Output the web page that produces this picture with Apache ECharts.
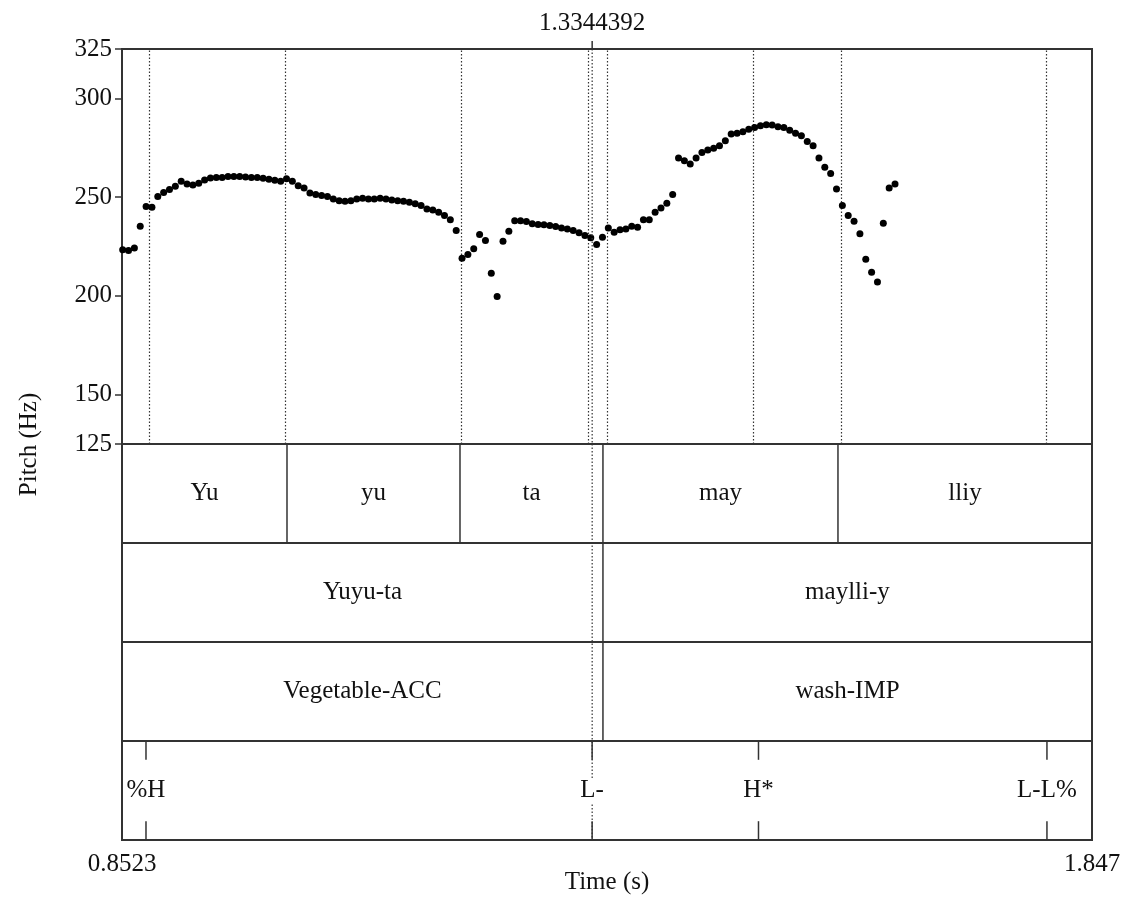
<!DOCTYPE html>
<html>
<head>
<meta charset="utf-8">
<title>Pitch contour with TextGrid</title>
<script src="https://cdn.jsdelivr.net/npm/echarts@6/dist/echarts.min.js"></script>
<style>
  html, body { margin: 0; padding: 0; background: #fff; }
  #chart { width: 1126px; height: 908px; }
</style>
</head>
<body>
<div id="chart"></div>
<script>
// Time range of the visible window (s)
const timeMin = 0.8523;
const timeMax = 1.847;
const timeTicks = [0.8523, 1.847];

// Pitch axis (Hz)
const pitchMin = 125;
const pitchMax = 325;
const pitchTicks = [125, 150, 200, 250, 300, 325];

// Cursor position (s)
const cursorTime = 1.3344392;

// Pitch track: frame times (s) and F0 values (Hz)
const pitchTimes = [
  0.853, 0.859, 0.865, 0.871, 0.877, 0.883, 0.889, 0.895, 0.901, 0.907,
  0.913, 0.919, 0.925, 0.931, 0.937, 0.943, 0.949, 0.955, 0.961, 0.967,
  0.973, 0.979, 0.985, 0.991, 0.997, 1.003, 1.009, 1.015, 1.021, 1.027,
  1.033, 1.039, 1.045, 1.051, 1.057, 1.063, 1.069, 1.075, 1.081, 1.087,
  1.093, 1.099, 1.105, 1.111, 1.117, 1.123, 1.129, 1.135, 1.141, 1.147,
  1.153, 1.159, 1.165, 1.171, 1.177, 1.183, 1.189, 1.195, 1.201, 1.207,
  1.213, 1.219, 1.225, 1.231, 1.237, 1.243, 1.249, 1.255, 1.261, 1.267,
  1.273, 1.279, 1.285, 1.291, 1.297, 1.303, 1.309, 1.315, 1.321, 1.327,
  1.333, 1.339, 1.345, 1.351, 1.357, 1.363, 1.369, 1.375, 1.381, 1.387,
  1.393, 1.399, 1.405, 1.411, 1.417, 1.423, 1.429, 1.435, 1.441, 1.447,
  1.453, 1.459, 1.465, 1.471, 1.477, 1.483, 1.489, 1.495, 1.501, 1.507,
  1.513, 1.519, 1.525, 1.531, 1.537, 1.543, 1.549, 1.555, 1.561, 1.567,
  1.573, 1.579, 1.585, 1.591, 1.597, 1.603, 1.609, 1.615, 1.621, 1.627,
  1.633, 1.639, 1.645
];
const pitchHz = [
  223.3, 223.0, 224.2, 235.3, 245.2, 244.9, 250.3, 252.4, 253.8, 255.5,
  258.0, 256.7, 256.2, 257.0, 258.7, 259.7, 260.0, 260.0, 260.5, 260.5,
  260.5, 260.2, 260.0, 260.0, 259.5, 259.0, 258.5, 258.0, 259.3, 258.0,
  255.8, 254.6, 252.1, 251.3, 250.8, 250.3, 249.1, 248.2, 247.9, 248.2,
  249.1, 249.4, 249.1, 249.1, 249.4, 249.1, 248.6, 248.2, 247.9, 247.4,
  246.6, 245.7, 244.0, 243.5, 242.3, 240.7, 238.5, 233.1, 219.1, 221.0,
  223.8, 231.1, 228.0, 211.5, 199.7, 227.7, 232.7, 238.1, 238.1, 237.6,
  236.5, 236.1, 236.0, 235.6, 235.1, 234.4, 233.9, 233.1, 231.9, 230.6,
  229.4, 226.0, 229.7, 234.4, 232.2, 233.5, 233.9, 235.2, 234.7, 238.5,
  238.5, 242.3, 244.5, 246.9, 251.3, 269.8, 268.4, 266.8, 269.8, 272.6,
  273.8, 274.8, 276.0, 278.5, 281.9, 282.4, 283.1, 284.4, 285.3, 286.1,
  286.6, 286.5, 285.6, 285.3, 283.9, 282.4, 281.1, 278.2, 276.0, 269.8,
  265.1, 262.0, 254.1, 245.7, 240.7, 237.8, 231.4, 218.6, 211.9, 207.0,
  236.8, 254.6, 256.6
];

// Tier 1: syllables
const syllables = ['Yu', 'yu', 'ta', 'may', 'lliy'];
const syllableBounds = [0.8523, 1.0215, 1.1989, 1.3455, 1.5865, 1.847];
// Tier 2: words
const words = ['Yuyu-ta', 'maylli-y'];
const wordBounds = [0.8523, 1.3455, 1.847];
// Tier 3: glosses
const glosses = ['Vegetable-ACC', 'wash-IMP'];
const glossBounds = [0.8523, 1.3455, 1.847];
// Tier 4: tones (point tier)
const tones = ['%H', 'L-', 'H*', 'L-L%'];
const toneTimes = [0.8769, 1.3344, 1.5050, 1.8008];

const FONT = "'Liberation Serif', 'Times New Roman', serif";
const FS = 25;
const INK = '#111';
const FRAME = '#333';
const DOT_LINE = '#333';

// Build interval items for the three interval tiers
const intervalItems = [];
function addTier(labels, bounds, row) {
  labels.forEach((lab, i) => {
    intervalItems.push({ start: bounds[i], end: bounds[i + 1], row: row, label: lab });
  });
}
addTier(syllables, syllableBounds, 0);
addTier(words, wordBounds, 1);
addTier(glosses, glossBounds, 2);

const toneRow = 3;
const pointItems = tones.map((lab, i) => ({ time: toneTimes[i], label: lab }));

// Dotted guides in the pitch panel: interior syllable boundaries and tone points
const guideTimes = syllableBounds.slice(1, -1).concat(toneTimes);

const pitchData = pitchTimes.map((t, i) => [t, pitchHz[i]]);

const chart = echarts.init(document.getElementById('chart'), null, { renderer: 'canvas' });

const textStyleBase = { fontFamily: FONT, fontSize: FS, color: INK };

chart.setOption({
  animation: false,
  backgroundColor: '#ffffff',
  textStyle: { fontFamily: FONT },
  grid: [
    { left: 122, top: 49, width: 970, height: 395, show: true, borderColor: FRAME, borderWidth: 2, backgroundColor: 'transparent' },
    { left: 122, top: 444, width: 970, height: 396, show: true, borderColor: FRAME, borderWidth: 2, backgroundColor: 'transparent' },
    { left: 122, top: 49, width: 970, height: 791, show: false }
  ],
  xAxis: [
    { type: 'value', gridIndex: 0, min: timeMin, max: timeMax, show: false },
    {
      type: 'value', gridIndex: 1, min: timeMin, max: timeMax, position: 'bottom',
      axisLine: { show: true, lineStyle: { color: FRAME, width: 2 } },
      axisTick: { show: true, inside: false, length: 7, customValues: timeTicks, lineStyle: { color: FRAME, width: 1.5 } },
      axisLabel: {
        show: true, customValues: timeTicks, margin: 12,
        formatter: (v) => String(v),
        fontFamily: FONT, fontSize: FS, color: INK
      },
      splitLine: { show: false },
      name: 'Time (s)', nameLocation: 'middle', nameGap: 30, nameMoveOverlap: false,
      nameTextStyle: textStyleBase
    },
    { type: 'value', gridIndex: 2, min: timeMin, max: timeMax, show: false }
  ],
  yAxis: [
    {
      type: 'value', gridIndex: 0, min: pitchMin, max: pitchMax,
      axisLine: { show: true, lineStyle: { color: FRAME, width: 2 } },
      axisTick: { show: true, inside: false, length: 7, customValues: pitchTicks, lineStyle: { color: FRAME, width: 1.5 } },
      axisLabel: { show: true, customValues: pitchTicks, margin: 10, fontFamily: FONT, fontSize: FS, color: INK },
      splitLine: { show: false }
    },
    {
      type: 'value', gridIndex: 1, min: 0, max: 4, interval: 1, inverse: true,
      axisLine: { show: true, lineStyle: { color: FRAME, width: 2 } },
      axisTick: { show: false }, axisLabel: { show: false },
      splitLine: { show: true, lineStyle: { color: FRAME, width: 2 } }
    },
    {
      type: 'value', gridIndex: 2, min: 0, max: 1,
      axisLine: { show: false }, axisTick: { show: false }, axisLabel: { show: false }, splitLine: { show: false },
      name: 'Pitch (Hz)', nameLocation: 'middle', nameGap: 80, nameRotate: 90, nameMoveOverlap: false,
      nameTextStyle: textStyleBase
    }
  ],
  series: [
    {
      // F0 points
      type: 'scatter', xAxisIndex: 0, yAxisIndex: 0,
      data: pitchData, symbol: 'circle', symbolSize: 7,
      itemStyle: { color: '#000', opacity: 1 },
      silent: true, z: 5,
      markLine: {
        silent: true, symbol: 'none', animation: false,
        label: { show: false },
        lineStyle: { type: [1.5, 2], color: DOT_LINE, width: 1.2, opacity: 1 },
        data: guideTimes.map((t) => ({ xAxis: t }))
      }
    },
    {
      // Cursor across the pitch panel, with its time printed on top
      type: 'custom', xAxisIndex: 0, yAxisIndex: 0, silent: true, z: 6,
      data: [[cursorTime, pitchMax]],
      encode: { x: 0, y: 1 },
      renderItem: (params, api) => {
        const t = api.value(0);
        const top = api.coord([t, pitchMax]);
        const bot = api.coord([t, pitchMin]);
        return {
          type: 'group',
          children: [
            { type: 'line', shape: { x1: top[0], y1: top[1], x2: bot[0], y2: bot[1] },
              style: { stroke: DOT_LINE, lineWidth: 1.2, lineDash: [1.5, 2] } },
            { type: 'line', shape: { x1: top[0], y1: top[1] - 8, x2: top[0], y2: top[1] },
              style: { stroke: FRAME, lineWidth: 1.5 } },
            { type: 'text', x: top[0], y: top[1] - 26,
              style: { text: String(t), font: FS + 'px ' + FONT, fill: INK, align: 'center', verticalAlign: 'middle' } }
          ]
        };
      }
    },
    {
      // Interval tiers: boundaries and centred labels
      type: 'custom', xAxisIndex: 1, yAxisIndex: 1, silent: true, z: 4,
      data: intervalItems.map((it) => [it.start, it.end, it.row]),
      encode: { x: [0, 1], y: 2 },
      renderItem: (params, api) => {
        const it = intervalItems[params.dataIndex];
        const a = api.coord([api.value(0), api.value(2)]);
        const b = api.coord([api.value(1), api.value(2) + 1]);
        const children = [
          { type: 'text', x: (a[0] + b[0]) / 2, y: (a[1] + b[1]) / 2,
            style: { text: it.label, font: FS + 'px ' + FONT, fill: INK, align: 'center', verticalAlign: 'middle' } }
        ];
        if (api.value(0) > timeMin) {
          children.push({ type: 'line', shape: { x1: a[0], y1: a[1], x2: a[0], y2: b[1] },
            style: { stroke: FRAME, lineWidth: 1.5 } });
        }
        return { type: 'group', children: children };
      }
    },
    {
      // Point tier: tick marks at top and bottom, label in the middle
      type: 'custom', xAxisIndex: 1, yAxisIndex: 1, silent: true, z: 4,
      data: pointItems.map((p) => [p.time, toneRow]),
      encode: { x: 0, y: 1 },
      renderItem: (params, api) => {
        const p = pointItems[params.dataIndex];
        const t = api.value(0);
        const r = api.value(1);
        const top = api.coord([t, r]);
        const bot = api.coord([t, r + 1]);
        const tick = (bot[1] - top[1]) * 0.19;
        return {
          type: 'group',
          children: [
            { type: 'line', shape: { x1: top[0], y1: top[1], x2: top[0], y2: top[1] + tick },
              style: { stroke: FRAME, lineWidth: 1.5 } },
            { type: 'line', shape: { x1: bot[0], y1: bot[1] - tick, x2: bot[0], y2: bot[1] },
              style: { stroke: FRAME, lineWidth: 1.5 } },
            { type: 'text', x: top[0], y: (top[1] + bot[1]) / 2,
              style: { text: p.label, font: FS + 'px ' + FONT, fill: INK, align: 'center', verticalAlign: 'middle',
                       backgroundColor: '#fff' } }
          ]
        };
      }
    },
    {
      // Cursor continued through the tiers
      type: 'custom', xAxisIndex: 1, yAxisIndex: 1, silent: true, z: 3,
      data: [[cursorTime, 0]],
      encode: { x: 0, y: 1 },
      renderItem: (params, api) => {
        const t = api.value(0);
        const top = api.coord([t, 0]);
        const bot = api.coord([t, 4]);
        return { type: 'line', shape: { x1: top[0], y1: top[1], x2: bot[0], y2: bot[1] },
                 style: { stroke: DOT_LINE, lineWidth: 1.2, lineDash: [1.5, 2] } };
      }
    }
  ]
});
</script>
</body>
</html>
